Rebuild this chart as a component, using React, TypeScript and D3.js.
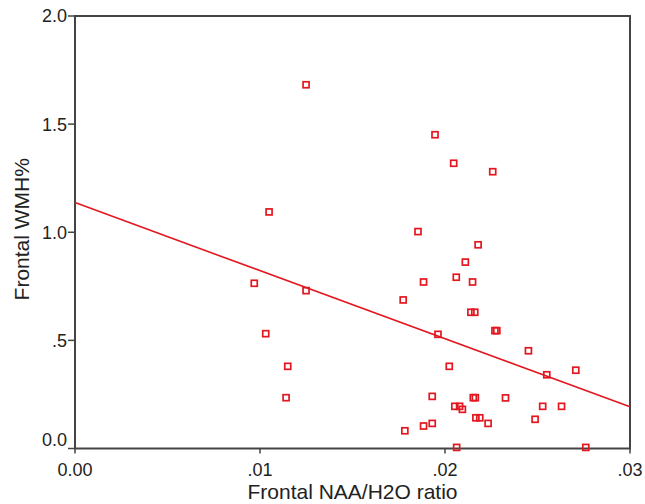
import React, { useEffect, useRef } from "react";
import * as d3 from "d3";

// Frontal NAA/H2O ratio (x) vs Frontal WMH% (y)
const naaRatio = [
  0.01249, 0.01049, 0.00969, 0.01249, 0.01031, 0.0115, 0.01141,
  0.01946, 0.02047, 0.02258, 0.01854, 0.02179, 0.0211, 0.02061,
  0.01884, 0.02149, 0.01774, 0.0214, 0.02161, 0.0227, 0.0228,
  0.01962, 0.02451, 0.02023, 0.02707, 0.0255, 0.01931, 0.02153,
  0.02164, 0.02327, 0.02053, 0.02079, 0.02094, 0.02528, 0.0263,
  0.02167, 0.02188, 0.02487, 0.02233, 0.01931, 0.01884, 0.01783,
  0.02063, 0.02761,
];
const wmhPercent = [
  1.682, 1.094, 0.764, 0.73, 0.531, 0.38, 0.235,
  1.451, 1.319, 1.28, 1.003, 0.942, 0.862, 0.792,
  0.77, 0.77, 0.687, 0.63, 0.63, 0.545, 0.545,
  0.528, 0.452, 0.38, 0.362, 0.341, 0.241, 0.235,
  0.235, 0.234, 0.195, 0.195, 0.181, 0.195, 0.195,
  0.142, 0.142, 0.135, 0.116, 0.116, 0.104, 0.082,
  0.005, 0.005,
];

// fitted line
const fitIntercept = 1.137;
const fitSlope = -31.47;

const xTicks = [0, 0.01, 0.02, 0.03];
const xTickLabels = ["0.00", ".01", ".02", ".03"];
const yTicks = [0, 0.5, 1.0, 1.5, 2.0];
const yTickLabels = ["0.0", ".5", "1.0", "1.5", "2.0"];

const App = () => {
  const chartRef = useRef(null);

  useEffect(() => {
    d3.select(chartRef.current).select("svg").remove();

    const width = 645;
    const height = 504;
    const margin = { top: 16, right: 15, bottom: 56, left: 75 };
    const red = "#e3171f";
    const axisColor = "#444";
    const font = "'Liberation Sans', Arial, sans-serif";

    const svg = d3
      .select(chartRef.current)
      .append("svg")
      .attr("width", width)
      .attr("height", height)
      .style("position", "absolute")
      .style("left", 0)
      .style("top", 0)
      .style("background", "#fff");

    const x = d3
      .scaleLinear()
      .domain([0, 0.03])
      .range([margin.left, width - margin.right]);
    const y = d3
      .scaleLinear()
      .domain([0, 2])
      .range([height - margin.bottom + 0.5, margin.top]);

    // frame
    svg
      .append("rect")
      .attr("x", x(0))
      .attr("y", y(2))
      .attr("width", x(0.03) - x(0))
      .attr("height", y(0) - y(2))
      .attr("fill", "none")
      .attr("stroke", axisColor)
      .attr("stroke-width", 2);

    // x ticks
    const xg = svg.append("g");
    xg.selectAll("line")
      .data(xTicks)
      .join("line")
      .attr("x1", (d) => x(d))
      .attr("x2", (d) => x(d))
      .attr("y1", y(0))
      .attr("y2", y(0) + 5)
      .attr("stroke", axisColor)
      .attr("stroke-width", 1.5);
    xg.selectAll("text")
      .data(xTicks)
      .join("text")
      .attr("x", (d) => x(d))
      .attr("y", y(0) + 27)
      .attr("text-anchor", "middle")
      .style("font-family", font)
      .style("font-size", "18px")
      .style("fill", "#222")
      .text((d, i) => xTickLabels[i]);

    // y ticks
    const yg = svg.append("g");
    yg.selectAll("line")
      .data(yTicks)
      .join("line")
      .attr("x1", x(0) - 7)
      .attr("x2", x(0))
      .attr("y1", (d) => y(d))
      .attr("y2", (d) => y(d))
      .attr("stroke", axisColor)
      .attr("stroke-width", 1.5);
    yg.selectAll("text")
      .data(yTicks)
      .join("text")
      .attr("x", x(0) - 8)
      .attr("y", (d) => y(d) - (d === 0 ? 9 : 0))
      .attr("dy", "0.36em")
      .attr("text-anchor", "end")
      .style("font-family", font)
      .style("font-size", "18px")
      .style("fill", "#222")
      .text((d, i) => yTickLabels[i]);

    // axis titles
    svg
      .append("text")
      .attr("x", (x(0) + x(0.03)) / 2)
      .attr("y", 499)
      .attr("text-anchor", "middle")
      .style("font-family", font)
      .style("font-size", "21px")
      .style("fill", "#222")
      .text("Frontal NAA/H2O ratio");
    svg
      .append("text")
      .attr("transform", `translate(29, ${y(1) - 3}) rotate(-90)`)
      .attr("text-anchor", "middle")
      .style("font-family", font)
      .style("font-size", "21px")
      .style("fill", "#222")
      .text("Frontal WMH%");

    // fit line
    const line = d3
      .line()
      .x((d) => x(d))
      .y((d) => y(fitIntercept + fitSlope * d));
    svg
      .append("path")
      .attr("d", line([0, 0.03]))
      .attr("fill", "none")
      .attr("stroke", red)
      .attr("stroke-width", 1.6);

    // points
    const s = 6;
    svg
      .append("g")
      .selectAll("rect")
      .data(naaRatio.map((v, i) => [v, wmhPercent[i]]))
      .join("rect")
      .attr("x", (d) => x(d[0]) - s / 2)
      .attr("y", (d) => y(d[1]) - s / 2)
      .attr("width", s)
      .attr("height", s)
      .attr("fill", "none")
      .attr("stroke", red)
      .attr("stroke-width", 1.7);
  }, []);

  return <div ref={chartRef}></div>;
};

export default App;
